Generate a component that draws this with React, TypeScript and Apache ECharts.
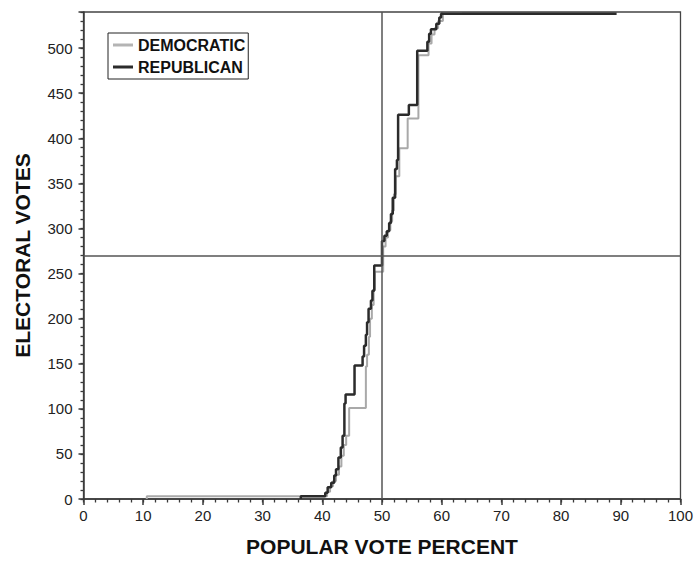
import { useEffect, useRef } from 'react';
import * as echarts from 'echarts';

// [popular vote %, cumulative electoral votes] — step changes
const democratic: [number, number][] = [
    [10.6, 0], [10.6, 3], [40.8, 8], [41.3, 14], [41.8, 20], [42.3, 27], [42.8, 36],
    [43.2, 48], [43.6, 60], [44.0, 70], [44.5, 101], [47.3, 147], [47.5, 160],
    [47.8, 180], [48.0, 200], [48.3, 215], [48.6, 232], [48.8, 252], [50.2, 280],
    [50.6, 290], [51.0, 298], [51.4, 308], [51.7, 320], [52.0, 338], [52.3, 358],
    [52.9, 389], [54.3, 422], [56.1, 492], [57.8, 505], [58.3, 515], [58.8, 522],
    [59.4, 530], [60.2, 538], [63.4, 538],
];

const republican: [number, number][] = [
    [36.4, 0], [36.4, 3], [40.5, 7], [40.9, 13], [41.5, 18], [42.0, 26], [42.3, 33],
    [42.7, 46], [43.1, 57], [43.4, 70], [43.7, 106], [43.9, 116], [45.4, 148],
    [46.75, 158], [47.0, 170], [47.3, 182], [47.5, 196], [47.75, 211], [48.15, 220],
    [48.4, 231], [48.7, 259], [50.0, 286], [50.4, 292], [50.8, 297], [51.2, 306],
    [51.5, 316], [51.8, 334], [52.2, 366], [52.5, 376], [52.7, 426], [54.5, 437],
    [55.9, 497], [57.6, 507], [57.9, 516], [58.2, 521], [59.1, 527], [59.6, 534],
    [59.9, 538], [89.3, 538],
];

const legendNames = ['DEMOCRATIC', 'REPUBLICAN'];
const majorityVotes = 270;
const evenSplit = 50;

const FONT = "'Liberation Sans', Arial, Helvetica, sans-serif";

export default function App() {
    const chartRef = useRef<HTMLDivElement>(null);

    useEffect(() => {
        if (!chartRef.current) return;
        const chart = echarts.init(chartRef.current, null, { renderer: 'svg' });

        const axisColor = '#3a3a3a';

        const option = {
            animation: false,
            backgroundColor: '#fff',
            grid: {
                left: 83.5,
                right: 14,
                top: 12,
                bottom: 62,
                show: true,
                borderColor: '#444',
                borderWidth: 1.3,
                containLabel: false,
            },
            legend: {
                data: legendNames,
                orient: 'vertical',
                left: 108,
                top: 33,
                icon: 'rect',
                itemWidth: 20,
                itemHeight: 3,
                itemGap: 6,
                padding: [4, 3, 4, 5],
                borderColor: '#222',
                borderWidth: 1,
                backgroundColor: '#fff',
                textStyle: {
                    fontFamily: FONT,
                    fontWeight: 'bold',
                    fontSize: 16,
                    color: '#111',
                },
            },
            xAxis: [
                {
                    type: 'value',
                    min: 0,
                    max: 100,
                    interval: 10,
                    name: 'POPULAR VOTE PERCENT',
                    nameLocation: 'middle',
                    nameGap: 37,
                    nameTextStyle: {
                        fontFamily: FONT,
                        fontWeight: 'bold',
                        fontSize: 21,
                        color: '#111',
                    },
                    axisLine: { show: true, lineStyle: { color: axisColor, width: 1.5 } },
                    axisTick: { show: true, length: 6, lineStyle: { color: axisColor, width: 1.5 } },
                    axisLabel: {
                        fontFamily: FONT,
                        fontSize: 15,
                        color: '#222',
                        margin: 9,
                    },
                    splitLine: { show: false },
                },
                {
                    type: 'value',
                    min: 0,
                    max: 100,
                    interval: 2,
                    position: 'bottom',
                    axisLine: { show: false },
                    axisTick: { show: true, length: 3.5, lineStyle: { color: axisColor, width: 1.3 } },
                    axisLabel: { show: false },
                    splitLine: { show: false },
                },
            ],
            yAxis: [
                {
                    type: 'value',
                    min: 0,
                    max: 540,
                    interval: 50,
                    name: 'ELECTORAL VOTES',
                    nameLocation: 'middle',
                    nameGap: 51,
                    nameTextStyle: {
                        fontFamily: FONT,
                        fontWeight: 'bold',
                        fontSize: 21,
                        color: '#111',
                    },
                    axisLine: { show: true, lineStyle: { color: axisColor, width: 1.5 } },
                    axisTick: { show: true, length: 5, lineStyle: { color: axisColor, width: 1.5 } },
                    axisLabel: {
                        fontFamily: FONT,
                        fontSize: 15,
                        color: '#222',
                        margin: 11,
                        formatter: (v: number) => (v % 50 === 0 ? String(v) : ''),
                    },
                    splitLine: { show: false },
                },
                {
                    type: 'value',
                    min: 0,
                    max: 540,
                    interval: 10,
                    position: 'left',
                    axisLine: { show: false },
                    axisTick: { show: true, length: 3, lineStyle: { color: axisColor, width: 1.3 } },
                    axisLabel: { show: false },
                    splitLine: { show: false },
                },
            ],
            series: [
                {
                    name: 'DEMOCRATIC',
                    type: 'line',
                    step: 'end',
                    data: democratic,
                    symbol: 'none',
                    lineStyle: { color: '#a9a9a9', width: 2 },
                    itemStyle: { color: '#b4b4b4' },
                    markLine: {
                        silent: true,
                        symbol: ['none', 'none'],
                        label: { show: false },
                        lineStyle: { type: 'solid', color: '#555', width: 1.5 },
                        data: [{ xAxis: evenSplit }, { yAxis: majorityVotes }],
                    },
                },
                {
                    name: 'REPUBLICAN',
                    type: 'line',
                    step: 'end',
                    data: republican,
                    symbol: 'none',
                    lineStyle: { color: '#2b2b2b', width: 2.5 },
                    itemStyle: { color: '#2b2b2b' },
                },
            ],
        };

        chart.setOption(option);

        return () => {
            chart.dispose();
        };
    }, []);

    return (
        <div
            ref={chartRef}
            style={{ position: 'fixed', left: 0, top: 0, width: 696, height: 562 }}
        />
    );
}
